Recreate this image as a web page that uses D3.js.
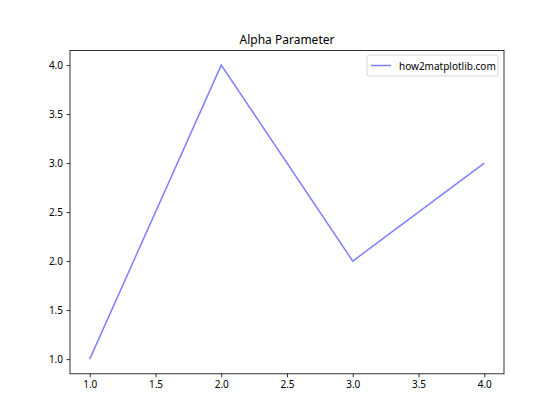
<!doctype html>
<html>
<head>
<script src="https://cdnjs.cloudflare.com/ajax/libs/d3/7.8.5/d3.min.js"></script>
<style>
body { margin: 0; background: #fff; }
text { font-family: "Noto Sans", "DejaVu Sans", sans-serif; fill: #000; }
.tick text { font-size: 10px; }
.tick line { stroke: #000; stroke-width: 0.8px; }
.domain { display: none; }
</style>
</head>
<body>
<svg width="560" height="420"></svg>
<script>
var xs = [1, 2, 3, 4]
var ys = [1, 4, 2, 3]
var xTicks = [1.0, 1.5, 2.0, 2.5, 3.0, 3.5, 4.0]
var yTicks = [1.0, 1.5, 2.0, 2.5, 3.0, 3.5, 4.0]
var seriesName = "how2matplotlib.com"
var title = "Alpha Parameter"

var svg = d3.select("svg")
// note: "top" clashes with window.top, so use plotTop etc.
var plotLeft = 70, plotRight = 504, plotTop = 50.4, plotBottom = 373.8

var x = d3.scaleLinear().domain([0.85, 4.15]).range([plotLeft, plotRight])
var y = d3.scaleLinear().domain([0.85, 4.15]).range([plotBottom, plotTop])

svg.append("g")
  .attr("transform", "translate(0," + plotBottom + ")")
  .call(d3.axisBottom(x).tickValues(xTicks).tickFormat(d3.format(".1f")).tickSize(3.5).tickPadding(3.5))

svg.append("g")
  .attr("transform", "translate(" + plotLeft + ",0)")
  .call(d3.axisLeft(y).tickValues(yTicks).tickFormat(d3.format(".1f")).tickSize(3.5).tickPadding(3.5))

svg.selectAll(".tick text").attr("fill", "#000")

svg.append("path")
  .datum(xs.map((d, i) => [d, ys[i]]))
  .attr("fill", "none")
  .attr("stroke", "blue")
  .attr("stroke-opacity", 0.5)
  .attr("stroke-width", 1.5)
  .attr("d", d3.line().x(d => x(d[0])).y(d => y(d[1])))

svg.append("rect")
  .attr("x", plotLeft).attr("y", plotTop)
  .attr("width", plotRight - plotLeft).attr("height", plotBottom - plotTop)
  .attr("fill", "none").attr("stroke", "#000").attr("stroke-width", 0.8)

svg.append("text")
  .attr("x", (plotLeft + plotRight) / 2).attr("y", plotTop - 6)
  .attr("text-anchor", "middle")
  .style("font-size", "12px")
  .text(title)

var lg = svg.append("g").attr("transform", "translate(367,55)")
lg.append("rect")
  .attr("width", 131).attr("height", 21).attr("rx", 2)
  .attr("fill", "#fff").attr("fill-opacity", 0.8)
  .attr("stroke", "#ccc").attr("stroke-width", 0.8)
lg.append("line")
  .attr("x1", 4).attr("x2", 24).attr("y1", 10.5).attr("y2", 10.5)
  .attr("stroke", "blue").attr("stroke-opacity", 0.5).attr("stroke-width", 1.5)
lg.append("text")
  .attr("x", 32).attr("y", 14.5)
  .style("font-size", "10px")
  .text(seriesName)
</script>
</body>
</html>
